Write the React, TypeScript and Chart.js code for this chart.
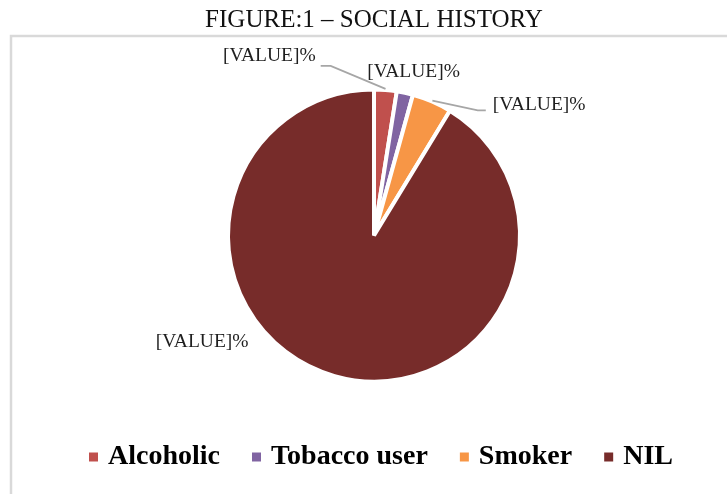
import React, { useEffect, useRef } from 'react';
import { Chart, registerables } from 'chart.js';

Chart.register(...registerables);

const TITLE = 'FIGURE:1 – SOCIAL HISTORY';
const CATEGORIES = ['Alcoholic', 'Tobacco user', 'Smoker', 'NIL'];
const VALUES = [2.5, 1.8, 4.4, 91.3];
const DATA_LABELS = ['[VALUE]%', '[VALUE]%', '[VALUE]%', '[VALUE]%'];
const COLORS = ['#C0504D', '#8064A2', '#F79646', '#772C2A'];

// label placement relative to the slice's outer mid-point (layout only)
const LABEL_LAYOUT: { dx: number; dy: number; leader: 'left' | 'right' | null }[] = [
  { dx: -116, dy: -36, leader: 'right' },
  { dx: 9, dy: -23, leader: null },
  { dx: 108, dy: 2, leader: 'left' },
  { dx: -133, dy: -32, leader: null },
];

const SERIF = "'Liberation Serif', 'Times New Roman', serif";

const framePlugin = {
  id: 'frame',
  beforeDraw(chart: any) {
    const ctx = chart.ctx;
    ctx.save();
    ctx.strokeStyle = '#d9d9d9';
    ctx.lineWidth = 2.5;
    ctx.beginPath();
    ctx.moveTo(11, chart.height + 4);
    ctx.lineTo(11, 36);
    ctx.lineTo(chart.width + 4, 36);
    ctx.stroke();
    ctx.restore();
  },
};

const legendShiftPlugin = {
  id: 'legendShift',
  afterLayout(chart: any) {
    const lg = chart.legend;
    if (lg) {
      lg.left += 9;
      lg.right += 9;
    }
  },
};

const dataLabelPlugin = {
  id: 'dataLabels',
  afterDatasetsDraw(chart: any) {
    const ctx = chart.ctx;
    const meta = chart.getDatasetMeta(0);
    ctx.save();
    ctx.font = `19.5px ${SERIF}`;
    ctx.textAlign = 'center';
    ctx.textBaseline = 'middle';
    meta.data.forEach((arc: any, i: number) => {
      const p = arc.getProps(['x', 'y', 'startAngle', 'endAngle', 'outerRadius'], true);
      const mid = (p.startAngle + p.endAngle) / 2;
      const cos = Math.cos(mid);
      const sin = Math.sin(mid);
      const R = p.outerRadius - 2;
      const ex = p.x + cos * R;
      const ey = p.y + sin * R;
      const L = LABEL_LAYOUT[i];
      const lx = ex + L.dx;
      const ly = ey + L.dy;
      const text = DATA_LABELS[i];
      const w = ctx.measureText(text).width;
      ctx.fillStyle = '#1f1f1f';
      ctx.fillText(text, lx, ly);
      if (L.leader) {
        const sx = p.x + cos * (R + 3);
        const sy = p.y + sin * (R + 3);
        let endX: number, elbowX: number, endY: number;
        if (L.leader === 'right') {
          endX = lx + w / 2 + 5;
          elbowX = endX + 10;
          endY = ly + 10;
        } else {
          endX = lx - w / 2 - 7;
          elbowX = endX - 8;
          endY = ly + 5;
        }
        ctx.strokeStyle = '#a6a6a6';
        ctx.lineWidth = 1.8;
        ctx.beginPath();
        ctx.moveTo(sx, sy);
        ctx.lineTo(elbowX, endY);
        ctx.lineTo(endX, endY);
        ctx.stroke();
      }
    });
    ctx.restore();
  },
};

export default function App() {
  const canvasRef = useRef<HTMLCanvasElement | null>(null);

  useEffect(() => {
    if (!canvasRef.current) return;
    const chart = new Chart(canvasRef.current, {
      type: 'pie',
      data: {
        labels: CATEGORIES,
        datasets: [
          {
            data: VALUES,
            backgroundColor: COLORS,
            borderColor: '#ffffff',
            borderWidth: 4,
            hoverOffset: 0,
            radius: 146,
          } as any,
        ],
      },
      options: {
        responsive: false,
        animation: false,
        events: [],
        layout: { padding: { left: 21, right: 0, top: 0, bottom: 13 } },
        plugins: {
          title: {
            display: true,
            text: TITLE,
            color: '#111',
            font: { family: SERIF, size: 25, weight: 'normal', lineHeight: 1 },
            padding: { top: 8, bottom: 31 },
          },
          legend: {
            position: 'bottom',
            labels: {
              color: '#000',
              font: { family: SERIF, size: 28, weight: 'bold' },
              boxWidth: 1,
              boxHeight: 1,
              padding: 36,
              generateLabels: (c: any) => {
                const base = (Chart as any).overrides.doughnut.plugins.legend.labels.generateLabels(c);
                return base.map((it: any) => ({ ...it, strokeStyle: it.fillStyle, lineWidth: 8 }));
              },
            },
          },
          tooltip: { enabled: false },
        },
      } as any,
      plugins: [framePlugin, dataLabelPlugin, legendShiftPlugin],
    });
    return () => chart.destroy();
  }, []);

  return (
    <div style={{ position: 'fixed', left: 0, top: 0, width: 727, height: 494, background: '#fff' }}>
      <canvas ref={canvasRef} width={727} height={494} style={{ display: 'block' }} />
    </div>
  );
}
